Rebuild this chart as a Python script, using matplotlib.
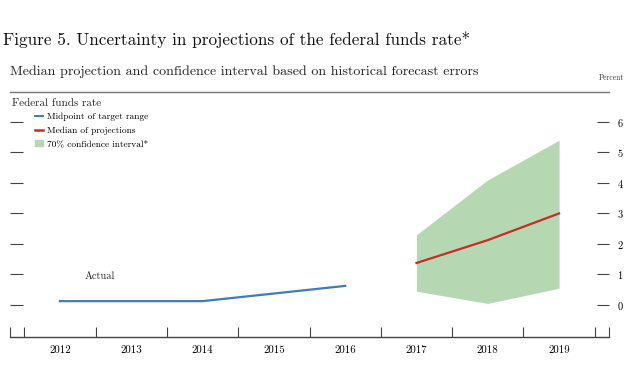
import matplotlib
matplotlib.use('Agg')
import matplotlib.pyplot as plt
from matplotlib.lines import Line2D
from matplotlib.patches import Patch

# data
years_actual = [2012, 2013, 2014, 2015, 2016]
midpoint = [0.125, 0.125, 0.125, 0.375, 0.625]
years_proj = [2017, 2018, 2019]
median = [1.375, 2.125, 3.0]
ci_low = [0.45, 0.05, 0.55]
ci_high = [2.3, 4.1, 5.4]
year_labels = ['2012', '2013', '2014', '2015', '2016', '2017', '2018', '2019']
y_ticks = [0, 1, 2, 3, 4, 5, 6]

plt.rcParams['font.family'] = ['cmr10', 'DejaVu Serif']
plt.rcParams['axes.formatter.use_mathtext'] = True

W, H = 630, 386
fig = plt.figure(figsize=(W / 100, H / 100), dpi=100)
ax = fig.add_axes([10 / W, (H - 337) / H, 599 / W, (337 - 92) / H])

blue = '#3f7db5'
red = '#cc2a24'
green = '#b5d7b2'
grey = '#444444'

ax.fill_between(years_proj, ci_low, ci_high, color=green, lw=0)
ax.plot(years_actual, midpoint, color=blue, lw=1.6)
ax.plot(years_proj, median, color=red, lw=1.6)

ax.set_xlim(2011.3, 2019.7)
ax.set_ylim(-1.05, 6.98)

for s in ['left', 'right']:
    ax.spines[s].set_visible(False)
ax.spines['top'].set_color('#777777')
ax.spines['bottom'].set_color(grey)
ax.spines['top'].set_linewidth(1.0)
ax.spines['bottom'].set_linewidth(1.0)

# years centred, boundary ticks between them
ax.set_xticks(range(2012, 2020))
ax.set_xticklabels(year_labels)
ax.set_xticks([2011.3] + [y + 0.5 for y in range(2011, 2020)] + [2019.7], minor=True)
ax.tick_params(axis='x', which='major', length=0, pad=6, labelsize=7.8)
ax.tick_params(axis='x', which='minor', direction='in', length=7.5, width=0.8, color=grey)

ax.set_yticks(y_ticks)
ax.tick_params(axis='y', which='major', direction='in', length=9, width=0.8, color=grey,
               left=True, right=True, labelleft=False, labelright=True, labelsize=7.5, pad=6)

ax.text(2012.35, 0.95, 'Actual', fontsize=7.5, color='#222222', va='center')

fig.text(3 / W, 1 - 40 / H, 'Figure 5. Uncertainty in projections of the federal funds rate*',
         fontsize=12.4, va='center', ha='left', color='#111111')
fig.text(10 / W, 1 - 72 / H,
         'Median projection and confidence interval based on historical forecast errors',
         fontsize=10.1, va='center', ha='left', color='#222222')
fig.text(624 / W, 1 - 78 / H, 'Percent', fontsize=5.5, va='center', ha='right', color='#333333')

ax.text(0.004, 0.955, 'Federal funds rate', transform=ax.transAxes, fontsize=8,
        va='center', ha='left', color='#222222')
handles = [Line2D([], [], color=blue, lw=1.4),
           Line2D([], [], color=red, lw=1.8),
           Patch(color=green)]
labels = ['Midpoint of target range', 'Median of projections', '70% confidence interval*']
ax.legend(handles, labels, loc='upper left', bbox_to_anchor=(0.042, 0.915), frameon=False,
          fontsize=6.8, handlelength=0.8, handleheight=0.6, handletextpad=0.5,
          labelspacing=0.55, borderpad=0, borderaxespad=0)

fig.savefig('out.png', dpi=100)
